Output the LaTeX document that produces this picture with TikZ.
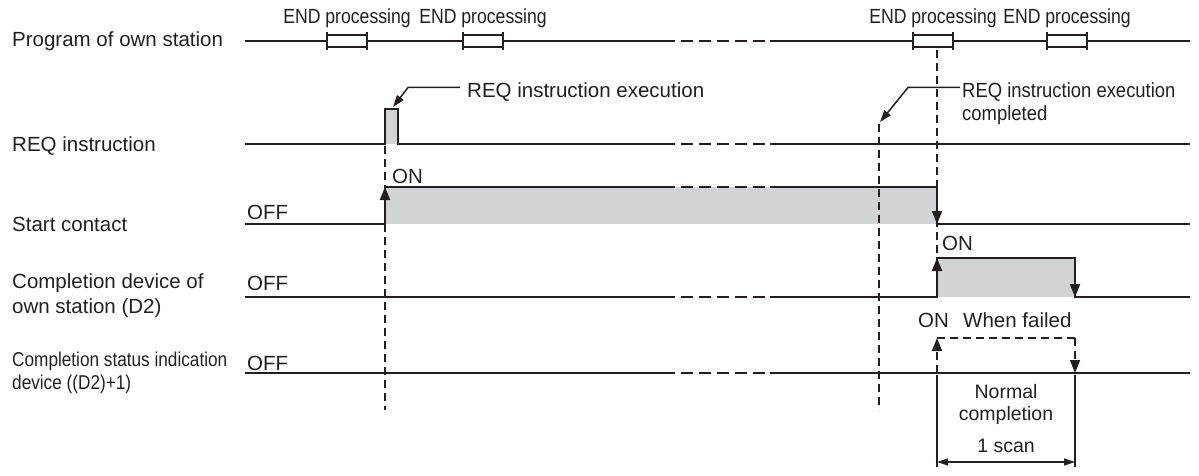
\documentclass[tikz,border=0pt]{standalone}
\usepackage{fontspec}
\setmainfont{Liberation Sans}
\newfontfamily\narrowfont[FakeStretch=0.86]{Liberation Sans}
\newfontfamily\semifont[FakeStretch=0.9]{Liberation Sans}
\usetikzlibrary{arrows.meta, positioning, calc}
\definecolor{InkBlack}{RGB}{35,31,32}
\definecolor{PulseGray}{RGB}{209,211,212}

\begin{document}
\begin{tikzpicture}[x=1pt, y=-1pt, font=\fontsize{20.5}{25}\selectfont,
  sig/.style={InkBlack, line width=2.2pt},
  brk/.style={InkBlack, line width=2.2pt, dash pattern=on 12pt off 6pt, dash phase=12pt},
  guide/.style={InkBlack, line width=1.6pt, dash pattern=on 8pt off 5pt},
  edgearrow/.style={InkBlack, line width=2.2pt, -{Triangle[length=13pt, width=10pt]}},
  lead/.style={InkBlack, line width=1.5pt, -{Triangle[length=12pt, width=8pt]}},
  txt/.style={inner sep=0pt, anchor=base west, text=InkBlack},
  endbox/.style={InkBlack, line width=1.8pt, fill=white}]
\useasboundingbox (0,0) rectangle (1199,476);
\def\xL{245}
\def\xR{1190}
\def\xA{385}  % REQ executed
\def\xB{879}  % REQ completed
\def\xC{937}  % END after completion
\def\xD{1075} % one scan later

% ---- Row labels ----
\node[txt] (prog) at (12,46.5) {Program of own station};
\node[txt] (reqlbl) at (12,151) {REQ instruction};
\node[txt] (startlbl) at (12,231.5) {Start contact};
% base of a two-line node = its last line
\node[txt, align=left] (donelbl) at (12,313) {Completion device of\\own station (D2)};
\node[txt, align=left, font=\fontsize{20}{23}\narrowfont] (statlbl) at (12,389) {Completion status indication\\device ((D2)+1)};

% ---- gray pulses ----
\fill[PulseGray] (\xA,109) rectangle (398,144);
\fill[PulseGray] (\xA,187) rectangle (\xC,224);
\fill[PulseGray] (\xC,258) rectangle (\xD,297);

% ---- timing guides ----
\draw[guide] (\xA,146) -- (\xA,410);
\draw[guide] (\xB,124) -- (\xB,410);
\draw[guide] (\xC,50) -- (\xC,258);

% ---- Program of own station ----
\draw[sig] (\xL,41) -- (675,41) (770,41) -- (\xR,41);
\foreach \n/\x in {a/327, b/463, c/913, d/1047}{
  \draw[endbox] (\x,35) rectangle ++(40,12);
  \draw[InkBlack, line width=1.8pt] (\x,32) -- ++(0,18) (\x+40,32) -- ++(0,18);
  \node[txt, anchor=base, font=\fontsize{20.5}{25}\narrowfont] (end\n) at (\x+20,23.5) {END processing};
}
% break in time axis
\foreach \y in {41,144,187,297,373}{
  \draw[brk] (675,\y) -- (770,\y);
}

% ---- REQ instruction ----
\draw[sig] (\xL,144) -- (\xA,144) -- (\xA,109) -- (398,109) -- (398,144) -- (675,144) (770,144) -- (\xR,144);
\node[txt] (reqexe) at (467,97.5) {REQ instruction execution};
\coordinate (exetip) at (393,107);
\draw[lead] (reqexe.base west) ++(-7,-10) -- ++(-52,0) -- (exetip);
\node[txt, align=left, font=\fontsize{20.5}{23}\semifont] (reqdone) at (962,121) {REQ instruction execution\\completed};
\coordinate (donetip) at (880,122);
\draw[lead] (reqdone.base west) ++(-2,-33.5) -- ++(-52,0) -- (donetip);

% ---- Start contact ----
\draw[sig] (\xL,224) -- (\xA,224) -- (\xA,187) -- (675,187) (770,187) -- (\xC,187) -- (\xC,224) -- (\xR,224);
\draw[edgearrow] (\xA,224) -- (\xA,187);
\draw[edgearrow] (\xC,187) -- (\xC,224);
\node[txt] (offS) at (247,219) {OFF};
\node[txt] (onS) at (392,183) {ON};

% ---- Completion device (D2) ----
\draw[sig] (\xL,297) -- (675,297) (770,297) -- (\xC,297) -- (\xC,258) -- (\xD,258) -- (\xD,297) -- (\xR,297);
\draw[edgearrow] (\xC,297) -- (\xC,258);
\draw[edgearrow] (\xD,258) -- (\xD,297);
\node[txt] (offD) at (247,290) {OFF};
\node[txt] (onD) at (942,250) {ON};

% ---- Completion status (D2)+1 ----
\draw[sig] (\xL,373) -- (675,373) (770,373) -- (\xR,373);
\draw[guide, -{Triangle[length=13pt, width=10pt]}] (\xC,373) -- (\xC,338);
\draw[guide] (\xC,338) -- (\xD,338);
\draw[guide, -{Triangle[length=13pt, width=10pt]}] (\xD,338) -- (\xD,373);
\node[txt] (offT) at (247,370) {OFF};
\node[txt] (onT) at (918,327) {ON};
\node[txt] (failT) at (963,327) {When failed};
\node[txt, anchor=base, align=center, font=\fontsize{19.5}{22}\selectfont] (normT) at (1006,420) {Normal\\completion};

% ---- 1 scan ----
\draw[InkBlack, line width=1.2pt] (\xC,375) -- (\xC,467) (\xD,375) -- (\xD,467);
\draw[InkBlack, line width=1.2pt, {Triangle[length=11pt, width=7pt]}-{Triangle[length=11pt, width=7pt]}] (\xC,462) -- (\xD,462);
\node[txt, anchor=base, font=\fontsize{19.5}{22}\selectfont] (scanT) at (1006,452) {1 scan};

\end{tikzpicture}
\end{document}
